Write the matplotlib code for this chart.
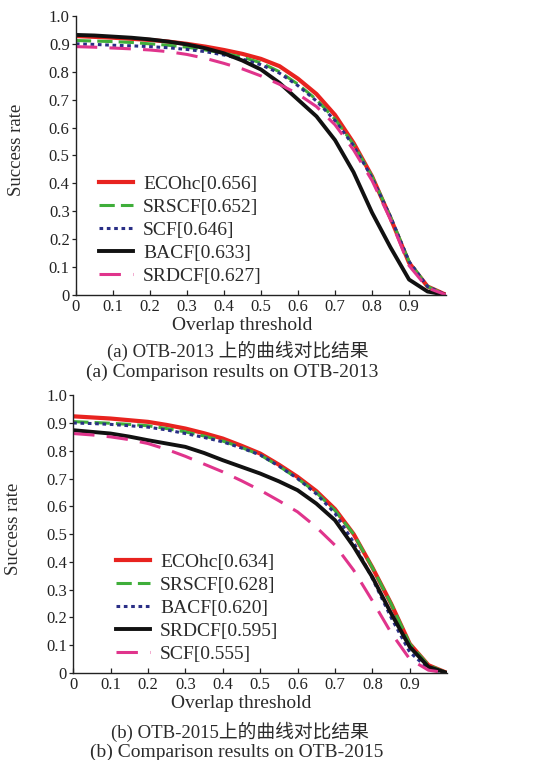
import numpy as np
import matplotlib.pyplot as plt

plt.rcParams['font.family'] = ['Liberation Serif', 'Noto Sans CJK SC']

# overlap thresholds
thr = [0, .05, .1, .15, .2, .25, .3, .35, .4, .45, .5,
       .55, .6, .65, .7, .75, .8, .85, .9, .95, 1.0]

# OTB-2013 success rates
otb13_names = ['ECOhc[0.656]', 'SRSCF[0.652]', 'SCF[0.646]', 'BACF[0.633]', 'SRDCF[0.627]']
otb13_ecohc = [.928, .925, .922, .918, .914, .908, .900, .890, .878, .864, .846,
               .820, .775, .720, .645, .545, .425, .275, .115, .030, 0]
otb13_srscf = [.912, .910, .908, .905, .900, .895, .888, .878, .866, .852, .832,
               .800, .755, .700, .630, .540, .425, .280, .120, .030, 0]
otb13_scf = [.900, .898, .895, .893, .890, .886, .880, .872, .860, .845, .825,
             .795, .750, .695, .625, .535, .420, .280, .120, .030, 0]
otb13_bacf = [.932, .930, .926, .922, .916, .908, .898, .884, .866, .840, .808,
              .760, .700, .640, .555, .440, .295, .170, .055, .012, 0]
otb13_srdcf = [.890, .888, .885, .882, .878, .872, .862, .848, .830, .810, .785,
               .755, .720, .675, .610, .520, .410, .270, .105, .025, 0]

# OTB-2015 success rates
otb15_names = ['ECOhc[0.634]', 'SRSCF[0.628]', 'BACF[0.620]', 'SRDCF[0.595]', 'SCF[0.555]']
otb15_ecohc = [.924, .920, .916, .910, .904, .893, .880, .863, .844, .818, .790,
               .750, .706, .655, .590, .500, .380, .250, .105, .028, 0]
otb15_srscf = [.905, .902, .899, .895, .890, .880, .868, .853, .835, .812, .785,
               .745, .700, .650, .585, .500, .380, .250, .105, .028, 0]
otb15_bacf = [.900, .898, .895, .890, .885, .875, .862, .848, .832, .810, .785,
              .745, .700, .645, .575, .470, .340, .200, .075, .015, 0]
otb15_srdcf = [.874, .868, .862, .851, .838, .826, .814, .792, .766, .742, .718,
               .690, .658, .610, .550, .455, .345, .215, .094, .022, 0]
otb15_scf = [.862, .857, .850, .840, .826, .805, .780, .752, .724, .692, .658,
             .620, .580, .525, .460, .370, .260, .145, .050, .010, 0]

xticks = [0, .1, .2, .3, .4, .5, .6, .7, .8, .9]
xticklabels = ['0', '0.1', '0.2', '0.3', '0.4', '0.5', '0.6', '0.7', '0.8', '0.9']
yticks = [0, .1, .2, .3, .4, .5, .6, .7, .8, .9, 1.0]
yticklabels = ['0', '0.1', '0.2', '0.3', '0.4', '0.5', '0.6', '0.7', '0.8', '0.9', '1.0']

RED = '#e8231f'
GREEN = '#3fae3a'
NAVY = '#2a2f86'
BLACK = '#111111'
PINK = '#e0348c'

sty_red = dict(color=RED, lw=3.0, ls='-')
sty_green = dict(color=GREEN, lw=2.2, ls=(0, (5, 2)))
sty_dot = dict(color=NAVY, lw=2.2, ls=(0, (1.2, 1.2)))
sty_black = dict(color=BLACK, lw=2.8, ls='-')
sty_pink = dict(color=PINK, lw=2.2, ls=(0, (7, 4)))

fig = plt.figure(figsize=(5.42, 7.6), dpi=100)
txt = '#2b2b2b'


def style_axes(ax):
    ax.set_xlim(0, 1.0)
    ax.set_ylim(0, 1.0)
    ax.set_xticks(xticks)
    ax.set_xticklabels(xticklabels)
    ax.set_yticks(yticks)
    ax.set_yticklabels(yticklabels)
    ax.spines['top'].set_visible(False)
    ax.spines['right'].set_visible(False)
    for s in ('left', 'bottom'):
        ax.spines[s].set_linewidth(1.0)
        ax.spines[s].set_color('#222222')
    ax.tick_params(labelsize=12, colors='#222222', width=0.9)
    ax.tick_params(axis='x', direction='in', length=3.5, pad=3)
    ax.tick_params(axis='y', direction='out', length=3, pad=1.5)
    ax.set_xlabel('Overlap threshold', fontsize=14, color=txt)
    ax.set_ylabel('Success rate', fontsize=13.5, color=txt)
    ax.xaxis.set_label_coords(0.449, -0.078)
    ax.yaxis.set_label_coords(-0.137, 0.52)


leg_kw = dict(loc='lower left', frameon=False, fontsize=14, borderpad=0,
              borderaxespad=0, handlelength=1.75, handletextpad=0.5,
              labelspacing=0.28, labelcolor=txt)

# (a) OTB-2013
ax1 = fig.add_axes([0.140, 0.612, 0.683, 0.367])
for vals, sty, name in zip([otb13_ecohc, otb13_srscf, otb13_scf, otb13_bacf, otb13_srdcf],
                           [sty_red, sty_green, sty_dot, sty_black, sty_pink],
                           otb13_names):
    ax1.plot(thr, vals, label=name, **sty)
style_axes(ax1)
ax1.legend(bbox_to_anchor=(0.063, 0.035), **leg_kw)

# (b) OTB-2015
ax2 = fig.add_axes([0.135, 0.1145, 0.690, 0.3655])
for vals, sty, name in zip([otb15_ecohc, otb15_srscf, otb15_bacf, otb15_srdcf, otb15_scf],
                           [sty_red, sty_green, sty_dot, sty_black, sty_pink],
                           otb15_names):
    ax2.plot(thr, vals, label=name, **sty)
style_axes(ax2)
ax2.legend(bbox_to_anchor=(0.115, 0.035), **leg_kw)

fig.text(0.439, 0.538, '(a) OTB-2013 上的曲线对比结果', ha='center', va='center',
         fontsize=13.5, color=txt)
fig.text(0.428, 0.510, '(a) Comparison results on OTB-2013', ha='center', va='center',
         fontsize=14, color=txt)
fig.text(0.443, 0.037, '(b) OTB-2015上的曲线对比结果', ha='center', va='center',
         fontsize=13.5, color=txt)
fig.text(0.437, 0.0105, '(b) Comparison results on OTB-2015', ha='center', va='center',
         fontsize=14, color=txt)

fig.savefig('out.png', dpi=100, facecolor='white')
